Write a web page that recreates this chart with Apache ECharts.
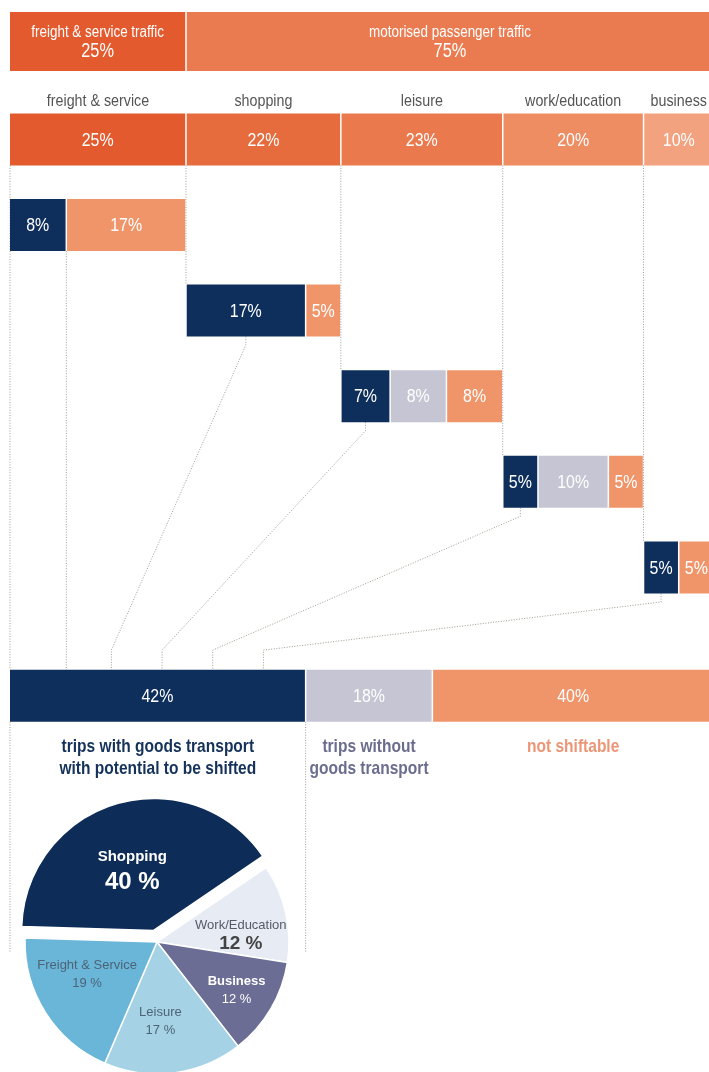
<!DOCTYPE html>
<html><head><meta charset="utf-8">
<script src="https://cdn.jsdelivr.net/npm/echarts@6/dist/echarts.min.js"></script>
<style>html,body{margin:0;padding:0;background:#fff}#c{width:709px;height:1072px}</style>
</head><body><div id="c"></div>
<script>
// ---------------- data ----------------
const topGroups = ['freight & service traffic', 'motorised passenger traffic'];
const topShares = [25, 75];
const purposes = ['freight & service', 'shopping', 'leisure', 'work/education', 'business'];
const purposeShares = [25, 22, 23, 20, 10];
const withGoods = [8, 17, 7, 5, 5];        // trips with goods transport, shiftable
const withoutGoods = [0, 0, 8, 10, 0];     // trips without goods transport
const notShiftable = [17, 5, 8, 5, 5];     // not shiftable
const outcomeNames = ['trips with goods transport\nwith potential to be shifted', 'trips without\ngoods transport', 'not shiftable'];
const outcomeShares = [42, 18, 40];
const pieNames = ['Shopping', 'Work/Education', 'Business', 'Leisure', 'Freight & Service'];
const pieValues = [40, 12, 12, 17, 19];

// ---------------- styles / layout ----------------
const FONT = '"Liberation Sans","Arimo",Arial,sans-serif';
const NAVY = '#0e2f5b', GREY = '#c6c5d4', SALMON = '#f0956a';
const topColors = ['#e35a2e', '#ea7b50'];
const purposeColors = ['#e35a2e', '#e66b3d', '#ea7a4e', '#ee8c62', '#f2a27f'];
const outcomeColors = [NAVY, GREY, SALMON];
const outcomeTextColors = ['#15325a', '#6b6d8f', '#ec9677'];
const pieColors = ['#0d2d58', '#e7ecf4', '#6b6d95', '#a5d3e5', '#6ab6d8'];
const pieLabelShift = [[-2, 6], [-4, 13], [2, 3], [-8, -10], [6, -16]];
const X_VISIBLE_MAX = 99.3;   // the picture is cropped a little before 100 %
const LV_TOP = -2.144, TOP_H = 0.69, BAR_H = 0.607;
const LV_PURPOSE = -1, LV_PURPOSE_LABEL = -1.44;
const LV_OUT = 5.5, LV_OUT_TEXT = 5.965, LV_BOX_END = 8.49;
const CONNECTOR_STEP = 7.2;
const SQUEEZE = 0.84;

function cum(arr){ let s = 0; return arr.map(v => { const a = s; s += v; return a; }); }
const topStart = cum(topShares), purposeStart = cum(purposeShares), outStart = cum(outcomeShares);

// ---------------- blocks ----------------
const blocks = [];
topGroups.forEach((g, i) => blocks.push({
  x0: topStart[i], x1: topStart[i] + topShares[i], lv: LV_TOP, h: TOP_H, color: topColors[i],
  text: '{a|' + g + '}\n{b|' + topShares[i] + '%}'
}));
purposes.forEach((p, i) => blocks.push({
  x0: purposeStart[i], x1: purposeStart[i] + purposeShares[i], lv: LV_PURPOSE, h: BAR_H,
  color: purposeColors[i], text: '{v|' + purposeShares[i] + '%}', textColor: '#fff1e8'
}));
purposes.forEach((p, i) => {
  let s = purposeStart[i];
  [[withGoods[i], NAVY, '#ffffff'], [withoutGoods[i], GREY, '#f6f6fa'], [notShiftable[i], SALMON, '#fff4ee']].forEach(([v, c, tc]) => {
    if (!v) return;
    blocks.push({ x0: s, x1: s + v, lv: i, h: BAR_H, color: c, text: '{v|' + v + '%}', textColor: tc });
    s += v;
  });
});
outcomeShares.forEach((v, i) => blocks.push({
  x0: outStart[i], x1: outStart[i] + v, lv: LV_OUT, h: BAR_H, color: outcomeColors[i], text: '{v|' + v + '%}', textColor: '#fff'
}));

// free texts
const texts = [];
purposes.forEach((p, i) => texts.push({ x: purposeStart[i] + purposeShares[i] / 2, lv: LV_PURPOSE_LABEL, text: p, color: '#555', size: 17, weight: 'normal', va: 'middle', lh: 20 }));
outcomeNames.forEach((n, i) => texts.push({ x: outStart[i] + outcomeShares[i] / 2, lv: LV_OUT_TEXT, text: n, color: outcomeTextColors[i], size: 18.5, weight: 'bold', va: 'top', lh: 22 }));

// dotted lines
const H2 = BAR_H / 2;
const lines = [];
lines.push([[0, LV_PURPOSE + H2], [0, LV_OUT - H2]]);
for (let i = 1; i < purposes.length; i++) lines.push([[purposeStart[i], LV_PURPOSE + H2], [purposeStart[i], i - H2]]);
lines.push([[withGoods[0], H2], [withGoods[0], LV_OUT - H2]]);
for (let i = 1; i < purposes.length; i++) {
  const xs = purposeStart[i] + withGoods[i] / 2, xe = withGoods[0] + i * CONNECTOR_STEP - 0.8;
  lines.push([[xs, i + H2], [xs, i + H2 + 0.1], [xe, LV_OUT - H2 - 0.23], [xe, LV_OUT - H2]]);
}
lines.push([[0, LV_OUT + H2], [0, LV_BOX_END]]);
lines.push([[outcomeShares[0], LV_OUT + H2], [outcomeShares[0], LV_BOX_END]]);

const rich = {
  a: { fontFamily: FONT, fontSize: 16, color: '#fff', lineHeight: 18 },
  b: { fontFamily: FONT, fontSize: 19.5, color: '#fff', lineHeight: 20 },
  v: { fontFamily: FONT, fontSize: 19, color: '#fff' }
};

const chart = echarts.init(document.getElementById('c'), null, { renderer: 'canvas' });
chart.setOption({
  animation: false,
  backgroundColor: '#fff',
  grid: { left: 10, right: 0, top: 11, height: 1027.2, containLabel: false },
  xAxis: { type: 'value', min: 0, max: X_VISIBLE_MAX, show: false },
  yAxis: { type: 'value', min: -2.5, max: 9.5, inverse: true, show: false },
  series: [
    {
      type: 'custom', z: 1, silent: true, clip: false,
      data: lines.map((l, i) => [l[0][0], l[0][1], i]),
      encode: { x: 0, y: 1 },
      renderItem(params, api) {
        const pts = lines[params.dataIndex].map(p => api.coord(p));
        return { type: 'polyline', shape: { points: pts }, style: { stroke: '#a39c90', lineWidth: 1, lineDash: [1, 1.6], fill: null } };
      }
    },
    {
      type: 'custom', z: 2, silent: true, clip: false,
      data: blocks.map((b, i) => [b.x0, b.lv, i]),
      encode: { x: 0, y: 1 },
      renderItem(params, api) {
        const b = blocks[params.dataIndex];
        const p0 = api.coord([b.x0, b.lv - b.h / 2]);
        const p1 = api.coord([b.x1, b.lv + b.h / 2]);
        const x = p0[0] + (b.x0 > 0 ? 0.75 : 0), y = Math.min(p0[1], p1[1]);
        const w = p1[0] - 0.75 - x, h = Math.abs(p1[1] - p0[1]);
        const r = JSON.parse(JSON.stringify(rich));
        if (b.textColor) r.v.color = b.textColor;
        return { type: 'group', children: [
          { type: 'rect', shape: { x, y, width: w, height: h }, style: { fill: b.color } },
          { type: 'text', x: x + w / 2, y: y + h / 2 + 1, scaleX: SQUEEZE,
            style: { text: b.text, rich: r, x: 0, y: 0, align: 'center', verticalAlign: 'middle', fill: '#fff' } }
        ] };
      }
    },
    {
      type: 'custom', z: 3, silent: true, clip: false,
      data: texts.map((t, i) => [t.x, t.lv, i]),
      encode: { x: 0, y: 1 },
      renderItem(params, api) {
        const t = texts[params.dataIndex];
        const p = api.coord([t.x, t.lv]);
        return { type: 'text', x: p[0], y: p[1], scaleX: SQUEEZE,
          style: { text: t.text, x: 0, y: 0, align: 'center', verticalAlign: t.va, fill: t.color,
            fontFamily: FONT, fontSize: t.size, fontWeight: t.weight, lineHeight: t.lh } };
      }
    },
    {
      type: 'pie', z: 4, center: [157, 942], radius: 132, startAngle: 178.3, clockwise: true,
      selectedMode: 'single', selectedOffset: 12, silent: true,
      itemStyle: { borderColor: '#fff', borderWidth: 1.5 },
      label: { show: false },
      labelLine: { show: false },
      emphasis: { disabled: true },
      labelLayout: p => ({ dx: pieLabelShift[p.dataIndex][0], dy: pieLabelShift[p.dataIndex][1] }),
      data: pieNames.map((n, i) => ({
        name: n, value: pieValues[i], selected: i === 0,
        itemStyle: { color: pieColors[i] },
        label: i === 0 ? {
          show: true, position: 'inside', formatter: '{a|{b}}\n{b|{c} %}',
          rich: { a: { fontFamily: FONT, fontSize: 15, fontWeight: 'bold', color: '#fff', lineHeight: 24 },
                  b: { fontFamily: FONT, fontSize: 24, fontWeight: 'bold', color: '#fff', lineHeight: 26 } }
        } : { show: false }
      }))
    },
    {
      type: 'pie', z: 5, center: [157, 942], radius: [42, 132], startAngle: 178.3, clockwise: true,
      silent: true, itemStyle: { color: 'rgba(0,0,0,0)', borderWidth: 0 },
      labelLine: { show: false }, emphasis: { disabled: true },
      label: { show: true, position: 'inside' },
      labelLayout: p => ({ dx: pieLabelShift[p.dataIndex][0], dy: pieLabelShift[p.dataIndex][1] }),
      data: pieNames.map((n, i) => {
        const col = i === 2 ? '#ffffff' : (i === 1 ? '#555a66' : '#4d6478');
        const big = i === 1;
        return {
          name: n, value: pieValues[i],
          label: i === 0 ? { show: false } : {
            show: true, formatter: '{a|{b}}\n{b|{c} %}',
            rich: { a: { fontFamily: FONT, fontSize: 13, fontWeight: i === 2 ? 'bold' : 'normal', color: col, lineHeight: 18 },
                    b: { fontFamily: FONT, fontSize: big ? 19 : 13, fontWeight: big ? 'bold' : 'normal', color: big ? '#444' : col, lineHeight: big ? 20 : 18 } }
          }
        };
      })
    }
  ]
});
</script></body></html>
